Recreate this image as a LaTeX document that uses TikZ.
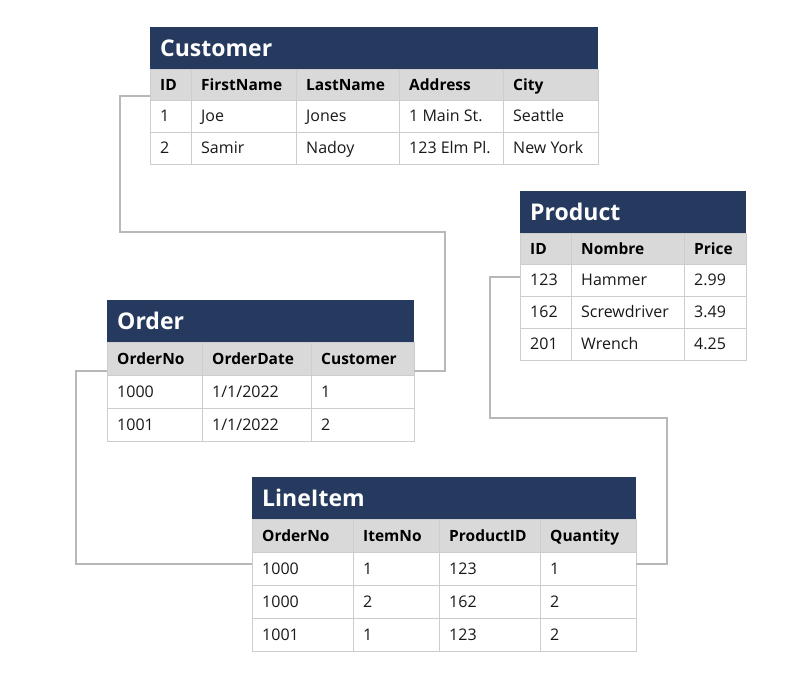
\documentclass[tikz,border=0pt]{standalone}
\usepackage{fontspec}
\setmainfont{Open Sans}
\definecolor{navy}{HTML}{253A5E}
\definecolor{hdrgray}{HTML}{D9D9D9}
\definecolor{cellline}{HTML}{CDCDCD}
\definecolor{connc}{HTML}{B8B8B8}
\tikzset{
 titlebox/.style={fill=navy, draw=none, inner sep=0, outer sep=0, anchor=north west},
 hdrbox/.style={fill=hdrgray, draw=cellline, line width=0.8pt, inner sep=0, outer sep=0, anchor=north west},
 bodybox/.style={fill=white, draw=cellline, line width=0.8pt, inner sep=0, outer sep=0, anchor=north west},
 titletext/.style={text=white, font=\fontsize{23}{27}\selectfont\bfseries, anchor=west, inner sep=0, text height=16.4pt, text depth=0pt},
 hdrtext/.style={text=black, font=\fontsize{15.5}{18}\selectfont\bfseries, anchor=west, inner sep=0, text height=11.1pt, text depth=0pt},
 bodytext/.style={text=black!90, font=\fontsize{16}{19}\selectfont, anchor=west, inner sep=0, text height=11.4pt, text depth=0pt},
 conn/.style={draw=connc, line width=2pt},
}
% name, box style, x1, y1, x2, y2, text style, text
\newcommand\dcell[8]{%
 \node[#2, minimum width=#5pt-#3pt, minimum height=#6pt-#4pt] (#1) at (#3,#4) {};
 \node[#7] at ([xshift=10pt]#1.west) {#8};
}
\begin{document}
\begin{tikzpicture}[x=1pt,y=-1pt]
\useasboundingbox (0,0) rectangle (800,689);
% ---------- Customer ----------
\node[titlebox, minimum width=448pt, minimum height=42pt] (cust) at (150,27) {};
\node[titletext] (custT) at ([xshift=10pt]cust.west) {Customer};
\foreach \a/\b/\t/\n in {150/191/ID/a,191/296/FirstName/b,296/399/LastName/c,399/503/Address/d,503/598/City/e}
 {\dcell{cH\n}{hdrbox}{\a}{69}{\b}{100}{hdrtext}{\t}}
\foreach \a/\b/\t/\n in {150/191/1/a,191/296/Joe/b,296/399/Jones/c,399/503/1 Main St./d,503/598/Seattle/e}
 {\dcell{cR1\n}{bodybox}{\a}{100}{\b}{132}{bodytext}{\t}}
\foreach \a/\b/\t/\n in {150/191/2/a,191/296/Samir/b,296/399/Nadoy/c,399/503/123 Elm Pl./d,503/598/New York/e}
 {\dcell{cR2\n}{bodybox}{\a}{132}{\b}{164}{bodytext}{\t}}
% ---------- Order ----------
\node[titlebox, minimum width=307pt, minimum height=42pt] (ord) at (107,300) {};
\node[titletext] (ordT) at ([xshift=10pt]ord.west) {Order};
\foreach \a/\b/\t/\n in {107/202/OrderNo/a,202/311/OrderDate/b,311/414/Customer/c}
 {\dcell{oH\n}{hdrbox}{\a}{342}{\b}{375}{hdrtext}{\t}}
\foreach \a/\b/\t/\n in {107/202/1000/a,202/311/1\slash1\slash2022/b,311/414/1/c}
 {\dcell{oR1\n}{bodybox}{\a}{375}{\b}{408}{bodytext}{\t}}
\foreach \a/\b/\t/\n in {107/202/1001/a,202/311/1\slash1\slash2022/b,311/414/2/c}
 {\dcell{oR2\n}{bodybox}{\a}{408}{\b}{441}{bodytext}{\t}}
% ---------- Product ----------
\node[titlebox, minimum width=226pt, minimum height=42pt] (prod) at (520,191) {};
\node[titletext] (prodT) at ([xshift=10pt]prod.west) {Product};
\foreach \a/\b/\t/\n in {520/571/ID/a,571/684/Nombre/b,684/746/Price/c}
 {\dcell{pH\n}{hdrbox}{\a}{233}{\b}{264}{hdrtext}{\t}}
\foreach \a/\b/\t/\n in {520/571/123/a,571/684/Hammer/b,684/746/2.99/c}
 {\dcell{pR1\n}{bodybox}{\a}{264}{\b}{296}{bodytext}{\t}}
\foreach \a/\b/\t/\n in {520/571/162/a,571/684/Screwdriver/b,684/746/3.49/c}
 {\dcell{pR2\n}{bodybox}{\a}{296}{\b}{328}{bodytext}{\t}}
\foreach \a/\b/\t/\n in {520/571/201/a,571/684/Wrench/b,684/746/4.25/c}
 {\dcell{pR3\n}{bodybox}{\a}{328}{\b}{360}{bodytext}{\t}}
% ---------- LineItem ----------
\node[titlebox, minimum width=384pt, minimum height=42pt] (li) at (252,477) {};
\node[titletext] (liT) at ([xshift=10pt]li.west) {LineItem};
\foreach \a/\b/\t/\n in {252/353/OrderNo/a,353/439/ItemNo/b,439/540/ProductID/c,540/636/Quantity/d}
 {\dcell{lH\n}{hdrbox}{\a}{519}{\b}{552}{hdrtext}{\t}}
\foreach \a/\b/\t/\n in {252/353/1000/a,353/439/1/b,439/540/123/c,540/636/1/d}
 {\dcell{lR1\n}{bodybox}{\a}{552}{\b}{585}{bodytext}{\t}}
\foreach \a/\b/\t/\n in {252/353/1000/a,353/439/2/b,439/540/162/c,540/636/2/d}
 {\dcell{lR2\n}{bodybox}{\a}{585}{\b}{618}{bodytext}{\t}}
\foreach \a/\b/\t/\n in {252/353/1001/a,353/439/1/b,439/540/123/c,540/636/2/d}
 {\dcell{lR3\n}{bodybox}{\a}{618}{\b}{651}{bodytext}{\t}}
% ---------- connectors ----------
\draw[conn] ([yshift=4pt]cHa.south west) -- ++(-30,0) |- (445,232) |- ([yshift=4pt]oHc.south east);
\draw[conn] ([yshift=4pt]oHa.south west) -- ++(-31,0) |- ([yshift=5pt]lR1a.west);
\draw[conn] ([yshift=3pt]pR1a.west) -- ++(-30,0) |- (667,418) |- ([yshift=5pt]lR1d.east);
\end{tikzpicture}
\end{document}
